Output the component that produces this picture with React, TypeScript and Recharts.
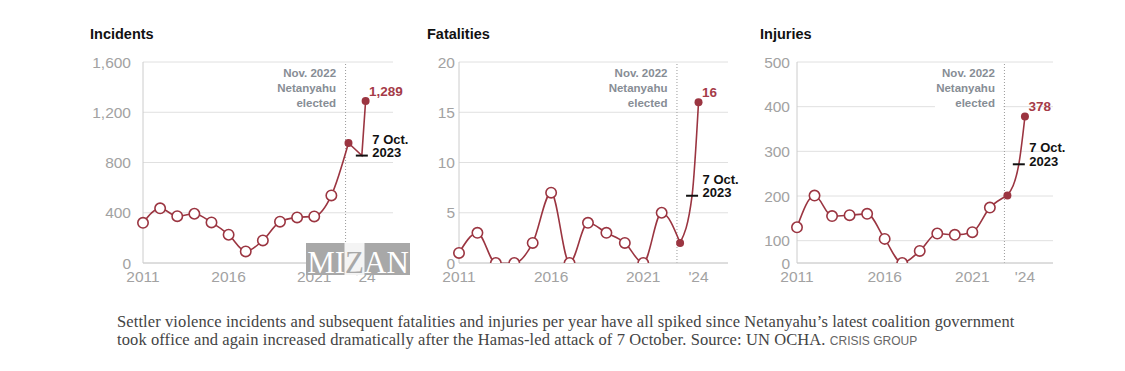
import React from 'react';
import { LineChart, Line, XAxis, YAxis, CartesianGrid, ReferenceLine } from 'recharts';

// yearly values, 2011 through 2023 (the 2023 point is drawn filled)
const years = [2011, 2012, 2013, 2014, 2015, 2016, 2017, 2018, 2019, 2020, 2021, 2022, 2023];
const incidents = [320, 435, 373, 392, 323, 225, 92, 180, 329, 363, 371, 538, 955];
const fatalities = [1, 3, 0, 0, 2, 7, 0, 4, 3, 2, 0, 5, 2];
// injuries axis is squeezed below 100 in the original; bottom line (labelled 0) sits at 50
const injuries = [130, 201, 155, 157, 160, 104, 50, 77, 116, 113, 119, 174, 201];

// tail: last yearly point, 7 Oct. 2023 marker, 2024
const incidentsTailX = [2023, 2023.78, 2024];
const incidentsTail = [955, 855, 1289];
const fatalitiesTailX = [2023, 2023.65, 2024];
const fatalitiesTail = [2, 6.7, 16];
const injuriesTailX = [2023, 2023.65, 2024];
const injuriesTail = [201, 271, 378];

const xTicks = [2011, 2016, 2021, 2024];
const electionX = 2022.83;
const incidentTicks = [0, 400, 800, 1200, 1600];
const fatalityTicks = [0, 5, 10, 15, 20];
const injuryTicks = [50, 100, 200, 300, 400, 500];

const MAROON = '#9b3541';
const LABEL_RED = '#a53b48';
const GREY = '#a2a2a2';
const SANS = '"Liberation Sans", Arial, sans-serif';
const tailKinds = ['end', 'oct', 'last'];

const fmtX = (v: number) => (v === 2024 ? "'24" : String(v));

interface PanelProps {
  left: number;
  title: string;
  yAxisWidth: number;
  marginRight: number;
  tickGap: number;
  values: number[];
  tailX: number[];
  tail: number[];
  domain: [number, number];
  ticks: number[];
  yFormat: (v: number) => string;
  tailCurve: 'linear' | 'monotone';
  valueText: string;
}

function Panel(p: PanelProps) {
  const main = years.map((x, i) => ({ x, v: p.values[i] }));
  const tailData = p.tailX.map((x, i) => ({ x, v: p.tail[i], kind: tailKinds[i] }));
  const last = main.length - 1;

  const openDot = (d: any) => {
    if (d.index === last) return <g key={`o${d.index}`} />;
    return (
      <circle key={`o${d.index}`} cx={d.cx} cy={d.cy} r={5.2} fill="#fff" stroke={MAROON} strokeWidth={1.6} />
    );
  };

  const tailDot = (d: any) => {
    const kind = d.payload.kind;
    if (kind === 'oct') {
      return (
        <g key={`t${d.index}`} fontFamily={SANS} fontWeight="bold" fontSize={13} fill="#111">
          <line x1={d.cx - 6} x2={d.cx + 6} y1={d.cy} y2={d.cy} stroke="#111" strokeWidth={2} />
          <text x={d.cx + 10.5} y={d.cy - 12}>7 Oct.</text>
          <text x={d.cx + 10.5} y={d.cy + 1.5}>2023</text>
        </g>
      );
    }
    return (
      <g key={`t${d.index}`}>
        <circle cx={d.cx} cy={d.cy} r={4} fill={MAROON} stroke="none" />
        {kind === 'last' && (
          <text x={d.cx + 3.5} y={d.cy - 5.5} fontFamily={SANS} fontWeight="bold" fontSize={13.5} fill={LABEL_RED}>
            {p.valueText}
          </text>
        )}
      </g>
    );
  };

  const electionLabel = (props: any) => {
    const vb = props.viewBox || {};
    const x = vb.x - 9.5;
    const y = vb.y;
    return (
      <g fontFamily={SANS} fontWeight="bold" fontSize={11.5} fill="#878d95" textAnchor="end">
        <rect x={x - 60} y={y + 4} width={68} height={44} fill="#fff" />
        <text x={x} y={y + 15}>Nov. 2022</text>
        <text x={x} y={y + 30}>Netanyahu</text>
        <text x={x} y={y + 45}>elected</text>
      </g>
    );
  };

  return (
    <div style={{ position: 'absolute', left: p.left, top: 0 }}>
      <div
        style={{
          position: 'absolute',
          left: 10,
          top: 26,
          fontFamily: SANS,
          fontWeight: 'bold',
          fontSize: 14.5,
          color: '#111',
          whiteSpace: 'nowrap',
        }}
      >
        {p.title}
      </div>
      <div style={{ position: 'absolute', left: 0, top: 20 }}>
        <LineChart
          width={330}
          height={280}
          margin={{ top: 42, right: p.marginRight, bottom: 6, left: 0 }}
        >
          <CartesianGrid vertical={false} stroke="#e0e0e0" />
          <XAxis
            type="number"
            dataKey="x"
            domain={[2011, 2025.6]}
            ticks={xTicks}
            tickFormatter={fmtX}
            interval={0}
            height={31}
            axisLine={{ stroke: '#cccccc' }}
            tickLine={false}
            tickSize={0}
            tickMargin={8}
            tick={{ fill: GREY, fontSize: 15.5, fontFamily: SANS }}
          />
          <YAxis
            type="number"
            dataKey="v"
            domain={p.domain}
            ticks={p.ticks}
            interval={0}
            allowDataOverflow
            width={p.yAxisWidth}
            tickFormatter={p.yFormat}
            axisLine={{ stroke: '#cccccc' }}
            tickLine={false}
            tickSize={0}
            tickMargin={p.tickGap}
            tick={{ fill: GREY, fontSize: 15.5, fontFamily: SANS }}
          />
          <ReferenceLine
            x={electionX}
            stroke="#9a9a9a"
            strokeDasharray="1 2"
            strokeWidth={1}
            label={electionLabel}
          />
          <Line
            data={main}
            dataKey="v"
            type="monotone"
            stroke={MAROON}
            strokeWidth={1.6}
            dot={openDot}
            activeDot={false}
            isAnimationActive={false}
          />
          <Line
            data={tailData}
            dataKey="v"
            type={p.tailCurve}
            stroke={MAROON}
            strokeWidth={1.6}
            dot={tailDot}
            activeDot={false}
            isAnimationActive={false}
          />
        </LineChart>
      </div>
    </div>
  );
}

function Watermark() {
  return (
    <svg
      width={104}
      height={32}
      style={{ position: 'absolute', left: 306, top: 243 }}
    >
      <rect x={0} y={0} width={104} height={32} fill="#a8a8a8" />
      <rect x={38.5} y={0} width={20} height={32} fill="#f4f4f4" />
      <text
        x={52}
        y={30}
        textAnchor="middle"
        fontFamily='"Liberation Serif", "Times New Roman", serif'
        fontSize={31}
        fill="#fff"
      >
        MI<tspan fill="#a8a8a8">Z</tspan>AN
      </text>
    </svg>
  );
}

export default function App() {
  return (
    <div
      style={{
        position: 'absolute',
        left: 0,
        top: 0,
        width: 1125,
        height: 371,
        background: '#fff',
        overflow: 'hidden',
      }}
    >
      <Panel
        left={80}
        title="Incidents"
        yAxisWidth={63}
        marginRight={17}
        tickGap={12}
        values={incidents}
        tailX={incidentsTailX}
        tail={incidentsTail}
        domain={[0, 1600]}
        ticks={incidentTicks}
        yFormat={(v) => v.toLocaleString('en-US')}
        tailCurve="linear"
        valueText="1,289"
      />
      <Panel
        left={417}
        title="Fatalities"
        yAxisWidth={42}
        marginRight={19}
        tickGap={4}
        values={fatalities}
        tailX={fatalitiesTailX}
        tail={fatalitiesTail}
        domain={[0, 20]}
        ticks={fatalityTicks}
        yFormat={(v) => String(v)}
        tailCurve="monotone"
        valueText="16"
      />
      <Panel
        left={750}
        title="Injuries"
        yAxisWidth={47}
        marginRight={27}
        tickGap={7}
        values={injuries}
        tailX={injuriesTailX}
        tail={injuriesTail}
        domain={[50, 500]}
        ticks={injuryTicks}
        yFormat={(v) => (v === 50 ? '0' : String(v))}
        tailCurve="monotone"
        valueText="378"
      />
      <Watermark />
      <div
        style={{
          position: 'absolute',
          left: 117,
          top: 313,
          fontFamily: '"Liberation Serif", "Times New Roman", serif',
          fontSize: 16.5,
          letterSpacing: 0.1,
          lineHeight: '18px',
          color: '#444',
          whiteSpace: 'nowrap',
        }}
      >
        Settler violence incidents and subsequent fatalities and injuries per year have all spiked since Netanyahu’s latest coalition government
        <br />
        took office and again increased dramatically after the Hamas-led attack of 7 October. Source: UN OCHA.{' '}
        <span style={{ fontFamily: SANS, fontSize: 12, letterSpacing: 0, color: '#666' }}>CRISIS GROUP</span>
      </div>
    </div>
  );
}
